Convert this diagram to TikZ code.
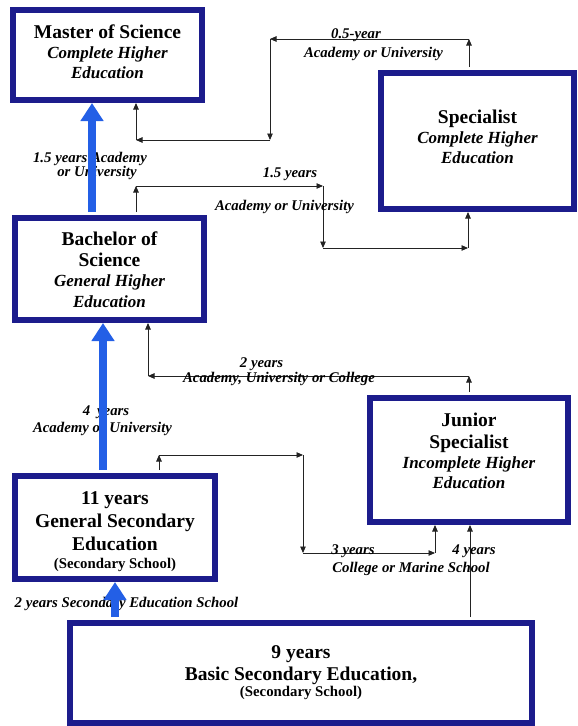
\documentclass[tikz,border=0pt]{standalone}
\usepackage{fontspec}
\setmainfont{Liberation Serif}
\usetikzlibrary{arrows.meta}
\definecolor{navy}{RGB}{28,28,140}
\definecolor{brightblue}{RGB}{35,95,230}
\definecolor{lineink}{RGB}{35,35,35}
\newcommand\ttlfnt{\fontsize{19.5}{21}\selectfont\bfseries}
\newcommand\subfnt{\fontsize{17}{21}\selectfont\bfseries\itshape}
\newcommand\smlfnt{\fontsize{14.8}{21}\selectfont\bfseries}
\newcommand\lblfnt{\fontsize{14.8}{14}\selectfont\bfseries\itshape}
\begin{document}
\begin{tikzpicture}[x=1pt,y=-1pt,
  box/.style={draw=navy, line width=6pt, fill=white, inner sep=0pt},
  boxtext/.style={align=center, inner sep=0pt, font=\ttlfnt},
  link/.style={draw=lineink, line width=0.9pt, -{Triangle[length=6.5pt,width=5.5pt]}},
  bigarrow/.style={draw=brightblue, line width=8pt, shorten <=3pt, -{Triangle[length=18pt,width=22pt]}},
  lbl/.style={font=\lblfnt, anchor=base, inner sep=0pt}]
\useasboundingbox (0,0) rectangle (578,726);

% boxes
\node[box, minimum width=189pt, minimum height=90pt] (master) at (107.5,55) {};
\node[box, minimum width=193pt, minimum height=136pt] (spec) at (477.5,141) {};
\node[box, minimum width=189pt, minimum height=102pt] (bach) at (109.5,269) {};
\node[box, minimum width=198pt, minimum height=124pt] (junior) at (469,460) {};
\node[box, minimum width=200pt, minimum height=103pt] (eleven) at (115,527.5) {};
\node[box, minimum width=462pt, minimum height=100pt] (nine) at (301,673) {};

% box texts
\node[boxtext, yshift=3pt] (mastertxt) at (master)
  {\ttlfnt Master of Science\\[-1pt] \subfnt Complete Higher\\[-1pt] \subfnt Education};
\node[boxtext, yshift=4pt] (spectxt) at (spec)
  {\ttlfnt Specialist\\[-1pt] \subfnt Complete Higher\\[-1pt] \subfnt Education};
\node[boxtext, yshift=-1pt] (bachtxt) at (bach)
  {\ttlfnt Bachelor of\\ \ttlfnt Science\\[-1pt] \subfnt General Higher\\ \subfnt Education};
\node[boxtext, yshift=9pt] (juniortxt) at (junior)
  {\ttlfnt Junior\\[1pt] \ttlfnt Specialist\\[-1pt] \subfnt Incomplete Higher\\[-1pt] \subfnt Education};
\node[boxtext, yshift=-4pt] (eleventxt) at (eleven)
  {\ttlfnt 11 years\\[2pt] \ttlfnt General Secondary\\[2pt] \ttlfnt Education\\[-3pt] \smlfnt (Secondary School)};
\node[boxtext, yshift=0pt] (ninetxt) at (nine)
  {\ttlfnt 9 years\\[1pt] \ttlfnt Basic Secondary Education,\\[-5pt] \smlfnt (Secondary School)};

% connector coordinates
\coordinate (s0) at (469,39);
\coordinate (s1) at (270,39);
\coordinate (s2) at (270,140);
\coordinate (s3) at (136,140);
\coordinate (b0) at (136,186);
\coordinate (b1) at (323,186);
\coordinate (b2) at (323,248);
\coordinate (b3) at (468,248);
\coordinate (j0) at (469,376);
\coordinate (j1) at (148,376);
\coordinate (e0) at (159,455);
\coordinate (e1) at (303,455);
\coordinate (e2) at (303,553);
\coordinate (e3) at (435,553);
\coordinate (n0) at (470,600);
\coordinate (ba) at (92,0);
\coordinate (bb) at (103,0);
\coordinate (bc) at (115,0);

% Specialist -> Master
\draw[link, shorten <=3pt] (spec.north -| s0) -- (s0);
\draw[link] (s0) -- (s1);
\draw[link] (s1) -- (s2);
\draw[link] (s2) -- (s3);
\draw[link] (s3) -- (s3 |- master.south);
% Bachelor -> Specialist
\draw[link, shorten <=3pt] (bach.north -| b0) -- (b0);
\draw[link] (b0) -- (b1);
\draw[link] (b1) -- (b2);
\draw[link] (b2) -- (b3);
\draw[link] (b3) -- (b3 |- spec.south);
% Junior -> Bachelor
\draw[link, shorten <=3pt] (junior.north -| j0) -- (j0);
\draw[link] (j0) -- (j1);
\draw[link] (j1) -- (j1 |- bach.south);
% Eleven -> Junior
\draw[link, shorten <=3pt] (eleven.north -| e0) -- (e0);
\draw[link] (e0) -- (e1);
\draw[link] (e1) -- (e2);
\draw[link] (e2) -- (e3);
\draw[link] (e3) -- (e3 |- junior.south);
% Nine -> Junior
\draw[link, shorten <=3pt] (nine.north -| n0) -- (n0 |- junior.south);

% labels
\node[lbl] (l05) at (356,38) {0.5-year};
\node[lbl] (lacad1) at (373.5,57) {Academy or University};
\node[lbl] (l15a) at (90,162) {1.5 years Academy};
\node[lbl] (l15b) at (97,176) {or University};
\node[lbl] (l15c) at (290,177) {1.5 years};
\node[lbl] (lacad2) at (284.5,210) {Academy or University};
\node[lbl] (l2y) at (261.5,367) {2 years};
\node[lbl] (lauc) at (279,382) {Academy, University or College};
\node[lbl] (l4y) at (106,415) {4\hspace{7pt}years};
\node[lbl] (lacad3) at (102.5,432) {Academy or University};
\node[lbl] (l3y) at (353,554) {3 years};
\node[lbl] (l4yb) at (474,554) {4 years};
\node[lbl] (lcms) at (411,572) {College or Marine School};
\node[lbl] (l2ys) at (126.5,607) {2 years Secondary Education School};

% main blue arrows
\draw[bigarrow] (bach.north -| ba) -- (master.south -| ba);
\draw[bigarrow] (eleven.north -| bb) -- (bach.south -| bb);
\draw[bigarrow] (nine.north -| bc) -- (eleven.south -| bc);
\end{tikzpicture}
\end{document}
